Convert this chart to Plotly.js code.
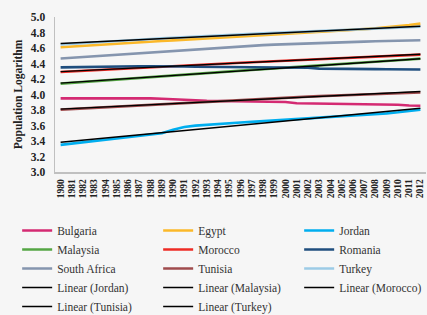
<!DOCTYPE html>
<html><head><meta charset="utf-8">
<script src="https://cdn.plot.ly/plotly-3.0.1.min.js"></script>
<style>html,body{margin:0;padding:0;background:#f6f6f6;}#chart{width:427px;height:315px;}</style>
</head><body><div id="chart"></div>
<script>
const years = [1980,1981,1982,1983,1984,1985,1986,1987,1988,1989,1990,1991,1992,1993,1994,1995,1996,1997,1998,1999,2000,2001,2002,2003,2004,2005,2006,2007,2008,2009,2010,2011,2012];
const tickLabels = ["1980","1981","1982","1983","1994","1985","1986","1987","1988","1989","1990","1991","1992","1993","1994","1995","1996","1997","1998","1999","2000","2001","2002","2003","2004","2005","2006","2007","2008","2009","2010","2011","2012"];

const bulgaria = [3.950,3.951,3.952,3.952,3.953,3.953,3.953,3.952,3.950,3.945,3.937,3.930,3.925,3.920,3.917,3.914,3.912,3.910,3.908,3.906,3.904,3.888,3.886,3.884,3.882,3.880,3.878,3.876,3.874,3.872,3.868,3.858,3.855];
const egypt = [4.610,4.620,4.630,4.640,4.649,4.658,4.667,4.675,4.683,4.691,4.699,4.707,4.715,4.723,4.731,4.739,4.747,4.755,4.763,4.771,4.779,4.788,4.797,4.806,4.815,4.824,4.833,4.843,4.853,4.864,4.877,4.895,4.915];
const jordan = [3.350,3.366,3.383,3.400,3.416,3.433,3.450,3.466,3.483,3.500,3.545,3.580,3.598,3.610,3.620,3.629,3.638,3.647,3.656,3.665,3.674,3.682,3.690,3.698,3.706,3.714,3.723,3.733,3.744,3.756,3.770,3.785,3.805];
const malaysia = [4.140,4.151,4.162,4.173,4.184,4.195,4.206,4.217,4.228,4.238,4.248,4.258,4.268,4.278,4.288,4.298,4.308,4.318,4.327,4.336,4.345,4.354,4.363,4.372,4.381,4.390,4.399,4.408,4.418,4.428,4.439,4.451,4.463];
const morocco = [4.290,4.298,4.306,4.314,4.322,4.330,4.338,4.346,4.353,4.360,4.367,4.374,4.381,4.388,4.395,4.402,4.409,4.416,4.423,4.430,4.437,4.444,4.451,4.458,4.465,4.472,4.478,4.484,4.490,4.496,4.502,4.508,4.514];
const romania = [4.350,4.353,4.355,4.357,4.359,4.361,4.363,4.364,4.365,4.366,4.365,4.361,4.358,4.356,4.354,4.353,4.352,4.351,4.350,4.349,4.348,4.347,4.346,4.334,4.331,4.330,4.329,4.328,4.327,4.326,4.325,4.324,4.323];
const southAfrica = [4.464,4.474,4.484,4.494,4.504,4.514,4.524,4.534,4.544,4.554,4.564,4.574,4.584,4.594,4.603,4.612,4.621,4.629,4.637,4.644,4.650,4.655,4.660,4.664,4.668,4.672,4.677,4.682,4.687,4.691,4.694,4.697,4.700];
const tunisia = [3.805,3.813,3.821,3.829,3.836,3.843,3.851,3.859,3.867,3.875,3.883,3.891,3.899,3.907,3.915,3.923,3.931,3.939,3.947,3.954,3.961,3.967,3.973,3.979,3.985,3.991,3.996,4.001,4.006,4.011,4.016,4.021,4.026];
const turkey = [4.646,4.656,4.665,4.674,4.683,4.692,4.701,4.709,4.717,4.725,4.733,4.741,4.748,4.755,4.762,4.769,4.776,4.783,4.789,4.795,4.801,4.807,4.813,4.819,4.824,4.830,4.835,4.841,4.847,4.853,4.860,4.867,4.875];

const series = [
  {name:"Bulgaria", y:bulgaria, color:"#d42a72"},
  {name:"Egypt", y:egypt, color:"#fbb829"},
  {name:"Jordan", y:jordan, color:"#00aeef"},
  {name:"Malaysia", y:malaysia, color:"#55a644"},
  {name:"Morocco", y:morocco, color:"#ee2b24"},
  {name:"Romania", y:romania, color:"#1f4e7e"},
  {name:"South Africa", y:southAfrica, color:"#8595ae"},
  {name:"Tunisia", y:tunisia, color:"#9f4b4d"},
  {name:"Turkey", y:turkey, color:"#9ccbe6"}
];
const trendFor = [["Jordan",jordan],["Malaysia",malaysia],["Morocco",morocco],["Tunisia",tunisia],["Turkey",turkey]];

function linfit(xs, ys){
  const n = xs.length; let sx=0,sy=0,sxx=0,sxy=0;
  for(let i=0;i<n;i++){sx+=xs[i];sy+=ys[i];sxx+=xs[i]*xs[i];sxy+=xs[i]*ys[i];}
  const b=(n*sxy-sx*sy)/(n*sxx-sx*sx); const a=(sy-b*sx)/n;
  return xs.map(x=>a+b*x);
}

const traces = series.map(s=>({x:years, y:s.y, name:s.name, type:"scatter", mode:"lines", line:{color:s.color, width:2.6}}));
trendFor.forEach(([nm, ys])=>{
  traces.push({x:years, y:linfit(years, ys), name:"Linear ("+nm+")", type:"scatter", mode:"lines", line:{color:"#000000", width:1.4}});
});

const serif = "Liberation Serif, Times New Roman, serif";
const layout = {
  width:427, height:315,
  paper_bgcolor:"#f6f6f6", plot_bgcolor:"#f6f6f6",
  margin:{l:55, r:1, t:17, b:143, autoexpand:false},
  showlegend:true,
  xaxis:{
    range:[1979.5, 2012.5], tickmode:"array", tickvals:years, ticktext:tickLabels,
    tickangle:-90, tickfont:{family:serif, size:9.5, color:"#222", weight:"bold"},
    showgrid:false, zeroline:false, showline:true, linecolor:"#c0c0c0", linewidth:1.5,
    ticks:"", ticklabelstandoff:2, automargin:false
  },
  yaxis:{
    range:[3.0, 5.0], dtick:0.2, tick0:3.0, tickformat:".1f",
    tickfont:{family:serif, size:11.5, color:"#222", weight:"bold"},
    showgrid:false, zeroline:false, showline:true, linecolor:"#c0c0c0", linewidth:1.5,
    ticks:"", ticklabelstandoff:6, automargin:false,
    title:{text:"Population Logarithm", font:{family:serif, size:11.5, color:"#222", weight:"bold"}, standoff:6}
  },
  legend:{
    orientation:"h", x:-0.102, xanchor:"left", y:-0.284, yanchor:"top",
    entrywidth:96, entrywidthmode:"pixels",
    font:{family:serif, size:11.5, color:"#333"},
    bgcolor:"rgba(0,0,0,0)", tracegroupgap:0, itemwidth:30
  }
};
Plotly.newPlot("chart", traces, layout, {staticPlot:true, displayModeBar:false});
</script></body></html>
